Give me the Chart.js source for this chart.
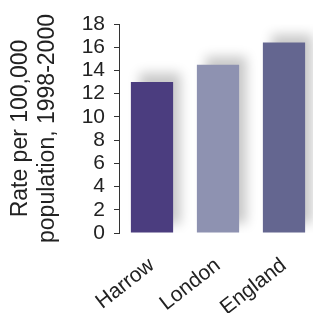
<!DOCTYPE html>
<html>
<head>
<meta charset="utf-8">
<script src="https://cdn.jsdelivr.net/npm/chart.js@4"></script>
<style>
  html, body { margin: 0; padding: 0; background: #fff; overflow: hidden; }
  #wrap { width: 320px; height: 313px; }
</style>
</head>
<body>
<div id="wrap"><canvas id="bars" width="320" height="313"></canvas></div>
<script>
var areas = ["Harrow", "London", "England"];
var rates = [13.0, 14.5, 16.4];
var barColors = ["#4b3d7f", "#8e92b1", "#646690"];
var yTitle = ["Rate per 100,000", "population, 1998-2000"];

// soft grey shadow behind the bars (up and to the right)
var shadowPlugin = {
  id: "barShadow",
  beforeDatasetsDraw: function (chart) {
    var c = chart.ctx;
    c.save();
    c.shadowColor = "rgba(0,0,0,0.22)";
    c.shadowBlur = 11;
    c.shadowOffsetX = 8;
    c.shadowOffsetY = -9;
  },
  afterDatasetsDraw: function (chart) {
    chart.ctx.restore();
  }
};

var ctx = document.getElementById("bars").getContext("2d");
var myChart = new Chart(ctx, {
  type: "bar",
  data: {
    labels: areas,
    datasets: [
      {
        data: rates,
        backgroundColor: barColors,
        borderWidth: 0,
        barPercentage: 0.64,
        categoryPercentage: 1,
      },
    ],
  },
  options: {
    responsive: false,
    animation: false,
    layout: { padding: { top: 24, right: 3, left: 0, bottom: 0 } },
    plugins: { legend: { display: false }, tooltip: { enabled: false } },
    scales: {
      x: {
        grid: { display: false },
        border: { display: false },
        ticks: {
          color: "#222",
          font: { family: "Liberation Sans", size: 21 },
          minRotation: 38,
          maxRotation: 38,
          padding: 12,
        },
        afterFit: function (s) { s.height = 80; },
      },
      y: {
        min: 0,
        max: 18,
        grid: { drawOnChartArea: false, tickLength: 5, color: "#333", lineWidth: 1 },
        border: { color: "#333", width: 1 },
        ticks: {
          stepSize: 2,
          autoSkip: false,
          color: "#222",
          padding: 9,
          font: { family: "Liberation Sans", size: 21 },
        },
        title: {
          display: true,
          text: yTitle,
          color: "#222",
          font: { family: "Liberation Sans", size: 23, lineHeight: 1.17 },
          padding: { top: 7, bottom: 0 },
        },
        afterFit: function (s) { s.width = 119; },
      },
    },
  },
  plugins: [shadowPlugin],
});
</script>
</body>
</html>
